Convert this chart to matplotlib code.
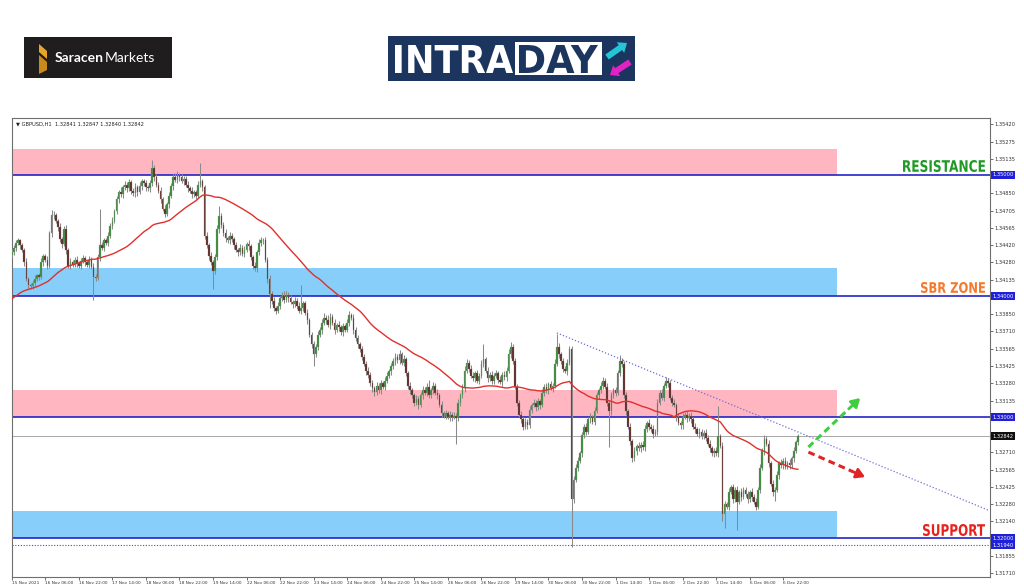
import matplotlib
matplotlib.use("Agg")
import matplotlib.pyplot as plt
import matplotlib.patches as mpatches
import matplotlib.transforms as mtransforms
from matplotlib.textpath import TextPath
from matplotlib.font_manager import FontProperties
import numpy as np
import pandas as pd

# ---- data (GBPUSD H1), prices in pips above 1.3000 ----
# closes before the first visible bar, estimated so the 50 SMA starts where it is drawn
pre_closes = [
    384, 386, 383, 381, 385, 388, 386, 383, 380, 384,
    387, 385, 382, 386, 389, 387, 384, 386, 388, 385,
    383, 386, 388, 385, 387,
    390, 394, 398, 396, 400, 403, 399, 402, 405, 401,
    404, 407, 405, 409, 412, 410, 414, 418, 416, 421, 425, 428, 431, 434,
]
closes = [
    436, 440, 444, 446, 442, 438, 428, 414, 409, 408,
    411, 414, 417, 416, 428, 433, 430, 425, 452, 467,
    467, 462, 457, 447, 443, 455, 438, 425, 428, 426,
    430, 427, 425, 429, 431, 428, 426, 430, 424, 416,
    415, 432, 442, 440, 446, 444, 450, 458, 462, 470,
    480, 486, 484, 490, 492, 489, 494, 487, 485, 490,
    486, 491, 495, 493, 490, 489, 493, 506, 498, 492,
    487, 480, 472, 468, 476, 483, 491, 498, 496, 500,
    498, 495, 497, 492, 489, 487, 484, 486, 483, 492,
    495, 490, 450, 442, 433, 428, 421, 432, 455, 466,
    459, 452, 448, 446, 450, 447, 442, 438, 436, 440,
    435, 438, 443, 441, 432, 425, 423, 436, 444, 446,
    446, 430, 414, 402, 396, 390, 388, 392, 398, 400,
    397, 401, 398, 395, 393, 396, 392, 388, 390, 394,
    386, 380, 368, 360, 352, 358, 368, 372, 378, 382,
    380, 376, 383, 378, 372, 376, 374, 370, 375, 372,
    378, 384, 382, 372, 365, 360, 356, 350, 344, 338,
    335, 328, 324, 321, 326, 322, 328, 325, 330, 334,
    338, 342, 346, 350, 347, 352, 345, 348, 336, 326,
    322, 318, 312, 315, 310, 318, 322, 320, 325, 318,
    322, 326, 320, 318, 310, 303, 301, 303, 300, 302,
    300, 301, 299, 312, 318, 324, 338, 345, 340, 334,
    332, 336, 330, 334, 344, 348, 338, 332, 335, 330,
    334, 336, 331, 329, 335, 333, 338, 352, 358, 346,
    325, 312, 302, 298, 292, 296, 293, 306, 310, 312,
    308, 313, 310, 320, 325, 322, 327, 324, 326, 344,
    358, 352, 346, 340, 338, 345, 356, 232, 248, 258,
    264, 270, 285, 292, 288, 298, 300, 296, 305, 318,
    322, 326, 330, 325, 312, 305, 318, 322, 320, 336,
    346, 344, 318, 305, 292, 280, 266, 272, 276, 274,
    277, 275, 290, 295, 292, 290, 286, 288, 312, 320,
    316, 326, 330, 328, 316, 312, 310, 300, 295, 293,
    300, 302, 299, 301, 298, 292, 290, 286, 288, 284,
    287, 283, 278, 274, 270, 272, 270, 284, 276, 220,
    228, 226, 238, 242, 232, 240, 230, 238, 234, 240,
    236, 232, 238, 234, 230, 226, 240, 258, 272, 282,
    278, 262, 245, 238, 240, 252, 262, 260, 264, 259,
    262, 260, 266, 272, 279, 284,
]
wick_up = [
    3, 2, 2, 2, 1, 2, 2, 3, 2, 2,  2, 3, 1, 2, 3, 2, 2, 3, 2, 4,
    3, 2, 2, 3, 2, 3, 4, 2, 3, 2,  2, 3, 2, 2, 3, 2, 2, 3, 2, 3,
    2, 3, 30, 3, 2, 2, 3, 2, 3, 2,  3, 2, 4, 2, 3, 2, 3, 2, 2, 3,
    2, 3, 2, 2, 3, 2, 3, 6, 2, 3,  2, 3, 2, 3, 2, 3, 2, 3, 4, 3,
    2, 3, 2, 2, 3, 2, 3, 2, 2, 3,  15, 2, 2, 3, 2, 3, 2, 3, 4, 8,
    3, 2, 3, 2, 3, 2, 2, 3, 2, 3,  2, 3, 2, 3, 2, 2, 3, 2, 3, 3,
    2, 3, 2, 3, 2, 3, 2, 3, 2, 3,  4, 3, 2, 3, 2, 3, 2, 3, 19, 2,
    2, 3, 2, 2, 3, 2, 3, 2, 3, 4,  2, 4, 3, 2, 3, 2, 3, 2, 3, 2,
    3, 4, 2, 3, 2, 3, 2, 3, 2, 2,  3, 2, 3, 2, 3, 2, 3, 2, 3, 3,
    2, 3, 3, 3, 2, 3, 2, 3, 2, 2,  3, 2, 2, 3, 2, 3, 4, 3, 3, 6,
    2, 3, 2, 3, 2, 3, 2, 3, 2, 3,  2, 3, 2, 3, 2, 3, 4, 3, 2, 3,
    3, 2, 3, 2, 3, 12, 2, 3, 2, 3,  2, 3, 2, 3, 2, 3, 3, 4, 4, 2,
    3, 2, 2, 3, 2, 3, 2, 3, 2, 3,  2, 3, 2, 3, 2, 3, 2, 3, 2, 4,
    11, 3, 2, 3, 2, 3, 3, 3, 3, 3,  3, 2, 3, 2, 3, 2, 3, 2, 3, 3,
    2, 3, 3, 2, 3, 2, 3, 2, 3, 3,  5, 3, 2, 3, 2, 3, 2, 3, 2, 3,
    2, 3, 3, 2, 3, 2, 3, 2, 3, 2,  3, 2, 3, 2, 3, 2, 3, 2, 3, 2,
    3, 2, 3, 2, 3, 2, 3, 2, 3, 2,  2, 3, 2, 3, 2, 2, 3, 25, 2, 3,
    3, 2, 3, 2, 3, 2, 3, 2, 3, 2,  2, 3, 2, 3, 2, 3, 2, 3, 2, 3,
    2, 3, 2, 3, 2, 3, 2, 3, 2, 3,  2, 3, 2, 3, 2, 2,
]
wick_dn = [
    3, 2, 3, 2, 3, 2, 3, 2, 3, 2,  2, 3, 2, 3, 2, 3, 2, 3, 2, 3,
    3, 2, 3, 2, 3, 2, 3, 2, 3, 2,  2, 3, 2, 3, 2, 3, 2, 3, 2, 19,
    3, 2, 3, 2, 3, 2, 3, 2, 3, 2,  2, 3, 2, 3, 2, 3, 2, 3, 2, 3,
    3, 2, 3, 2, 3, 2, 3, 2, 3, 2,  2, 3, 2, 3, 2, 3, 2, 3, 2, 3,
    3, 2, 3, 2, 3, 2, 3, 2, 3, 2,  2, 3, 3, 2, 3, 2, 15, 3, 2, 3,
    3, 2, 3, 2, 3, 2, 3, 2, 3, 2,  2, 3, 2, 3, 2, 3, 2, 3, 2, 3,
    3, 2, 3, 12, 3, 2, 3, 2, 3, 2,  3, 2, 3, 2, 3, 2, 3, 2, 3, 2,
    2, 3, 2, 3, 10, 2, 3, 2, 3, 2,  3, 2, 3, 2, 3, 2, 3, 2, 3, 2,
    2, 3, 2, 3, 2, 3, 2, 3, 2, 3,  3, 2, 3, 4, 3, 2, 3, 2, 3, 2,
    2, 3, 2, 3, 2, 3, 2, 3, 2, 3,  3, 2, 3, 2, 3, 2, 3, 2, 3, 2,
    2, 3, 2, 3, 2, 3, 2, 3, 2, 3,  3, 2, 21, 2, 3, 2, 3, 2, 3, 2,
    2, 3, 2, 3, 2, 3, 2, 3, 2, 3,  3, 2, 3, 2, 3, 2, 3, 2, 3, 2,
    2, 3, 2, 3, 3, 2, 3, 2, 3, 2,  3, 2, 3, 2, 3, 2, 3, 2, 3, 2,
    2, 3, 2, 3, 2, 3, 2, 39, 3, 2,  3, 2, 3, 2, 3, 2, 3, 2, 3, 2,
    3, 2, 3, 2, 3, 30, 3, 2, 3, 2,  2, 3, 2, 3, 2, 3, 3, 2, 3, 2,
    3, 2, 3, 2, 3, 2, 3, 2, 3, 2,  2, 3, 2, 3, 2, 3, 2, 3, 2, 3,
    3, 2, 3, 2, 3, 2, 3, 2, 3, 2,  2, 3, 2, 3, 2, 3, 2, 3, 2, 6,
    12, 2, 3, 2, 3, 2, 23, 2, 3, 2,  2, 3, 2, 3, 2, 3, 2, 3, 2, 3,
    2, 3, 2, 3, 7, 2, 3, 2, 3, 2,  2, 3, 2, 3, 2, 2,
]
ma_period = 50

zone_levels = [1.35000, 1.34000, 1.33000, 1.32000]
zone_tops = [1.35215, 1.34231, 1.33223, 1.32223]
zone_colors = ["#ffb6c1", "#87cefa", "#ffb6c1", "#87cefa"]
zone_names = ["RESISTANCE", "SBR ZONE", "", "SUPPORT"]
zone_text_colors = ["#1f9a24", "#f5792a", "", "#e8211b"]
low_level = 1.31940
last_price = 1.32842
trend_pts = [(260, 1.33695), (465.7, 1.32231)]
price_ticks = [1.35420, 1.35275, 1.35135, 1.34850, 1.34705, 1.34565, 1.34420,
               1.34280, 1.34135, 1.33850, 1.33710, 1.33565, 1.33425, 1.33280,
               1.33135, 1.32710, 1.32565, 1.32425, 1.32280, 1.32140, 1.31855,
               1.31710]
header = "\u25bc GBPUSD,H1  1.32841 1.32847 1.32840 1.32842"

# ---- build OHLC ----
times = pd.date_range("2021-11-15 14:00", "2021-12-07 05:00", freq="h")
times = times[times.dayofweek < 5]
c = 1.3 + np.array(closes) / 1e4
o = np.r_[1.3 + pre_closes[-1] / 1e4, c[:-1]]
hi = np.maximum(o, c) + np.array(wick_up) / 1e4
lo = np.minimum(o, c) - np.array(wick_dn) / 1e4
x = np.arange(len(c))
all_c = np.r_[1.3 + np.array(pre_closes) / 1e4, c]
ma = pd.Series(all_c).rolling(ma_period).mean().values[len(pre_closes):]

W, H = 1024, 587
fig = plt.figure(figsize=(W / 100, H / 100), dpi=100)
fig.patch.set_facecolor("white")

ax = fig.add_axes([11.7 / W, 10 / H, (990 - 11.7) / W, (577 - 118) / H])
ax.set_xlim(0.48, 466.6)
ax.set_ylim(1.31678, 1.35471)
band_end = 393.7

# zones
for lvl, top, col in zip(zone_levels, zone_tops, zone_colors):
    ax.add_patch(mpatches.Rectangle((0.48, lvl), band_end - 0.48, top - lvl,
                                    fc=col, ec="none", zorder=1))
    ax.axhline(lvl, color="#2424c8", lw=1.2, zorder=2)
ax.axhline(last_price, color="#a8a8a8", lw=0.7, zorder=2)
ax.axhline(low_level, color="#4a4ac0", lw=0.8, ls=(0, (1, 1.5)), zorder=2)

# candles
up = c >= o
ax.vlines(x, lo, hi, color="#8a8a8a", lw=0.75, zorder=3)
body = np.where(np.abs(c - o) < 0.00003, 0.00003, c - o)
ax.bar(x[up], body[up], bottom=o[up], width=0.78, color="#3a8a3a",
       edgecolor="#8a9a8a", linewidth=0.2, zorder=4)
ax.bar(x[~up], body[~up], bottom=o[~up], width=0.78, color="#5e2b26",
       edgecolor="#8a7a7a", linewidth=0.2, zorder=4)

# moving average
ax.plot(x, ma, color="#e0302c", lw=1.0, zorder=5)

# trend line
ax.plot([p[0] for p in trend_pts], [p[1] for p in trend_pts],
        color="#6f6fd0", lw=0.9, ls=(0, (1, 1.6)), zorder=5)

# scenario arrows
for (x0, y0, x1, y1, col) in [(380, 1.32752, 404.7, 1.33157, "#3fce3f"),
                              (380, 1.32710, 407.0, 1.32504, "#e02424")]:
    xm = x0 + (x1 - x0) * 0.78
    ym = y0 + (y1 - y0) * 0.78
    ax.plot([x0, xm], [y0, ym], color=col, lw=2.2, ls=(0, (2.2, 1.4)), zorder=6)
    ax.annotate("", xy=(x1, y1), xytext=(xm, ym),
                arrowprops=dict(arrowstyle="-|>,head_length=0.5,head_width=0.3",
                                color=col, lw=2.0, shrinkA=0, shrinkB=0), zorder=6)

# axes styling
for s in ax.spines.values():
    s.set_color("#6e6e6e")
    s.set_linewidth(0.8)
ax.yaxis.tick_right()
ax.set_yticks(price_ticks)
ax.set_yticklabels([f"{v:.5f}" for v in price_ticks])
ax.tick_params(axis="y", length=2, width=0.5, pad=1.5, labelsize=3.7,
               colors="#333333")
tick_bars = list(range(0, len(c), 16))
tick_labels = [times[i].strftime("%d %b %Y").lstrip("0") if i == 0
               else f"{times[i].day} {times[i]:%b %H:%M}" for i in tick_bars]
ax.set_xticks(tick_bars)
ax.set_xticklabels(tick_labels)
ax.tick_params(axis="x", length=2, width=0.5, pad=1, labelsize=3.1,
               colors="#333333")
for lbl in ax.get_xticklabels():
    lbl.set_ha("left")

trans = mtransforms.blended_transform_factory(ax.transAxes, ax.transData)
for lvl, fc in [(1.35000, "#2020d8"), (1.34000, "#2020d8"), (1.33000, "#2020d8"),
                (1.32000, "#2020d8"), (low_level, "#2020d8"), (last_price, "#101010")]:
    ax.text(1.0025, lvl, f"{lvl:.5f}", transform=trans, ha="left", va="center",
            fontsize=3.7, color="white", clip_on=False,
            bbox=dict(boxstyle="square,pad=0.25", fc=fc, ec="none"))

ax.text(0.004, 0.992, header, transform=ax.transAxes, ha="left", va="top",
        fontsize=3.7, color="#222222")

# ---- overlay in pixel coordinates: zone names and logos ----
lg = fig.add_axes([0, 0, 1, 1], zorder=10)
lg.set_xlim(0, W)
lg.set_ylim(H, 0)
lg.axis("off")
lg.patch.set_alpha(0)

bold = FontProperties(family="DejaVu Sans", weight="bold")


def fitted_text(s, x0, x1, y_top, y_bot, color):
    # text squeezed into a box, like the condensed fonts of the original
    tp = TextPath((0, 0), s, size=10, prop=bold)
    bb = tp.get_extents()
    tr = (mtransforms.Affine2D().translate(-bb.x0, -bb.y0)
          .scale((x1 - x0) / bb.width, -(y_bot - y_top) / bb.height)
          .translate(x0, y_bot))
    lg.add_patch(mpatches.PathPatch(tr.transform_path(tp), fc=color, ec="none"))


name_boxes = [(903, 160, 172), (921, 282, 293), None, (923, 524, 536)]
for name, col, box in zip(zone_names, zone_text_colors, name_boxes):
    if name:
        fitted_text(name, box[0], 985, box[1], box[2], col)

# Saracen Markets
lg.add_patch(mpatches.Rectangle((24, 37), 148, 41, fc="#1f1d1e", ec="none"))
lg.add_patch(mpatches.Polygon([(39, 44), (47, 51), (47, 59), (39, 52)], fc="#e7a52a", ec="none"))
lg.add_patch(mpatches.Polygon([(39, 55), (47, 62), (47, 70), (39, 74)], fc="#c98a1c", ec="none"))
t1 = lg.text(55, 57.5, "Saracen", color="white", fontsize=10, fontweight="bold",
             family=["Lato", "DejaVu Sans"], va="center", ha="left")
lg.annotate("Markets", xy=(1, 0), xycoords=t1, xytext=(0.5, 0), textcoords="offset points",
            color="white", fontsize=10, family=["Lato", "DejaVu Sans"], va="bottom", ha="left")

# INTRADAY
lg.add_patch(mpatches.Rectangle((388, 36), 247, 45, fc="#1c355f", ec="none"))
fitted_text("INTRA", 395, 513, 45, 73, "white")
lg.add_patch(mpatches.Rectangle((515, 42), 87, 33, fc="white", ec="none"))
fitted_text("DAY", 519, 598, 45, 73, "#1c355f")
lg.add_patch(mpatches.FancyArrow(607, 57, 20, -14, width=6, head_width=13, head_length=8,
                                 length_includes_head=True, fc="#22c6d6", ec="none"))
lg.add_patch(mpatches.FancyArrow(630, 62, -20, 13, width=6, head_width=13, head_length=8,
                                 length_includes_head=True, fc="#e223c4", ec="none"))

fig.savefig("out.png", dpi=100, facecolor="white")
